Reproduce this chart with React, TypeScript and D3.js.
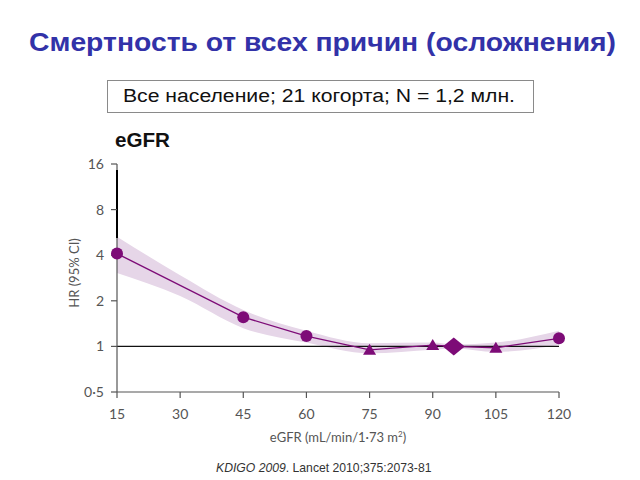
import React from "react";
import * as d3 from "d3";

const egfr = [15, 45, 60, 75, 90, 95, 105, 120];
const hr = [4.1, 1.56, 1.17, 0.95, 1.02, 1.0, 0.98, 1.13];
const markerKind = ["circle", "circle", "circle", "triangle", "triangle", "diamond", "triangle", "circle"];

const bandX = [15, 30, 45, 60, 75, 90, 95, 105, 120];
const bandLow = [3.05, 2.15, 1.32, 1.06, 0.9, 0.95, 0.97, 0.92, 1.02];
const bandHigh = [5.3, 2.95, 1.74, 1.27, 1.05, 1.06, 1.03, 1.06, 1.27];

const xTicks = [15, 30, 45, 60, 75, 90, 105, 120];
const yTicks = [0.5, 1, 2, 4, 8, 16];
const yTickLabels = ["0·5", "1", "2", "4", "8", "16"];

const title = "Смертность от всех причин (осложнения)";
const subtitle = "Все население; 21 когорта; N = 1,2 млн.";

const purple = "#7d0b77";
const axisFont = "Lato, 'Open Sans', sans-serif";

export default function App() {
  const x = d3.scaleLinear().domain([15, 120]).range([117, 559]);
  const y = d3.scaleLog().base(2).domain([0.5, 16]).range([392, 164]);

  const band = d3
    .area<number>()
    .x((_, i) => x(bandX[i]))
    .y0((_, i) => y(bandLow[i]))
    .y1((_, i) => y(bandHigh[i]))
    .curve(d3.curveMonotoneX)(bandX);

  const line = d3
    .line<number>()
    .x((_, i) => x(egfr[i]))
    .y((_, i) => y(hr[i]))(egfr);

  const marker = (kind: string, cx: number, cy: number, i: number) => {
    if (kind === "circle") return <circle key={i} cx={cx} cy={cy} r={6} fill={purple} />;
    if (kind === "triangle")
      return (
        <path key={i} d={`M${cx},${cy - 6}L${cx + 6.5},${cy + 5}L${cx - 6.5},${cy + 5}Z`} fill={purple} />
      );
    return (
      <path key={i} d={`M${cx},${cy - 9}L${cx + 11},${cy}L${cx},${cy + 9}L${cx - 11},${cy}Z`} fill={purple} />
    );
  };

  return (
    <svg
      width={640}
      height={480}
      style={{ position: "absolute", left: 0, top: 0, background: "#fff" }}
      fontFamily="Arial, 'Liberation Sans', sans-serif"
    >
      <rect width={640} height={480} fill="#fff" />
      <text
        x={29}
        y={51}
        fontSize={25}
        fontWeight="bold"
        fill="#3232a8"
        textLength={587}
        lengthAdjust="spacingAndGlyphs"
      >
        {title}
      </text>
      <rect x={107.5} y={80.5} width={426} height={32} fill="#fff" stroke="#8a8a8a" strokeWidth={1} />
      <text x={123} y={102} fontSize={18} fill="#111" textLength={392} lengthAdjust="spacingAndGlyphs">
        {subtitle}
      </text>
      <text x={115} y={147} fontSize={19.5} fontWeight="bold" fill="#111" textLength={55} lengthAdjust="spacingAndGlyphs">
        eGFR
      </text>

      {/* band */}
      <path d={band || ""} fill="#e6d6e8" />

      {/* reference line at 1 */}
      <line x1={x(15)} x2={x(120)} y1={y(1)} y2={y(1)} stroke="#111" strokeWidth={1.2} />

      {/* y axis */}
      <line x1={117} x2={117} y1={y(16)} y2={y(0.5)} stroke="#555" strokeWidth={1.2} />
      <line x1={117} x2={117} y1={170} y2={238} stroke="#000" strokeWidth={2} />
      {yTicks.map((t, i) => (
        <g key={t}>
          <line x1={111} x2={117} y1={y(t)} y2={y(t)} stroke="#555" strokeWidth={1.2} />
          <text x={104} y={y(t)} dy="0.35em" textAnchor="end" fontSize={14} fill="#555" fontFamily={axisFont}>
            {yTickLabels[i]}
          </text>
        </g>
      ))}
      <text
        transform={`translate(79,${273}) rotate(-90)`}
        textAnchor="middle"
        fontSize={13}
        fill="#555"
        fontFamily={axisFont}
      >
        HR (95% CI)
      </text>

      {/* x axis */}
      <line x1={x(15)} x2={x(120)} y1={392} y2={392} stroke="#555" strokeWidth={1.2} />
      {xTicks.map((t) => (
        <g key={t}>
          <line x1={x(t)} x2={x(t)} y1={392} y2={398} stroke="#555" strokeWidth={1.2} />
          <text x={x(t)} y={414} dy="0.35em" textAnchor="middle" fontSize={14} fill="#555" fontFamily={axisFont}>
            {t}
          </text>
        </g>
      ))}
      <text x={338} y={442} textAnchor="middle" fontSize={13} fill="#555" fontFamily={axisFont}>
        eGFR (mL/min/1·73 m<tspan dy={-5} fontSize={8}>2</tspan>
        <tspan dy={5}>)</tspan>
      </text>

      {/* line and markers */}
      <path d={line || ""} fill="none" stroke={purple} strokeWidth={1.3} />
      {egfr.map((v, i) => marker(markerKind[i], x(v), y(hr[i]), i))}

      <text x={216} y={472} fontSize={12.2} fill="#333">
        <tspan fontStyle="italic">KDIGO 2009</tspan>. Lancet 2010;375:2073-81
      </text>
    </svg>
  );
}
